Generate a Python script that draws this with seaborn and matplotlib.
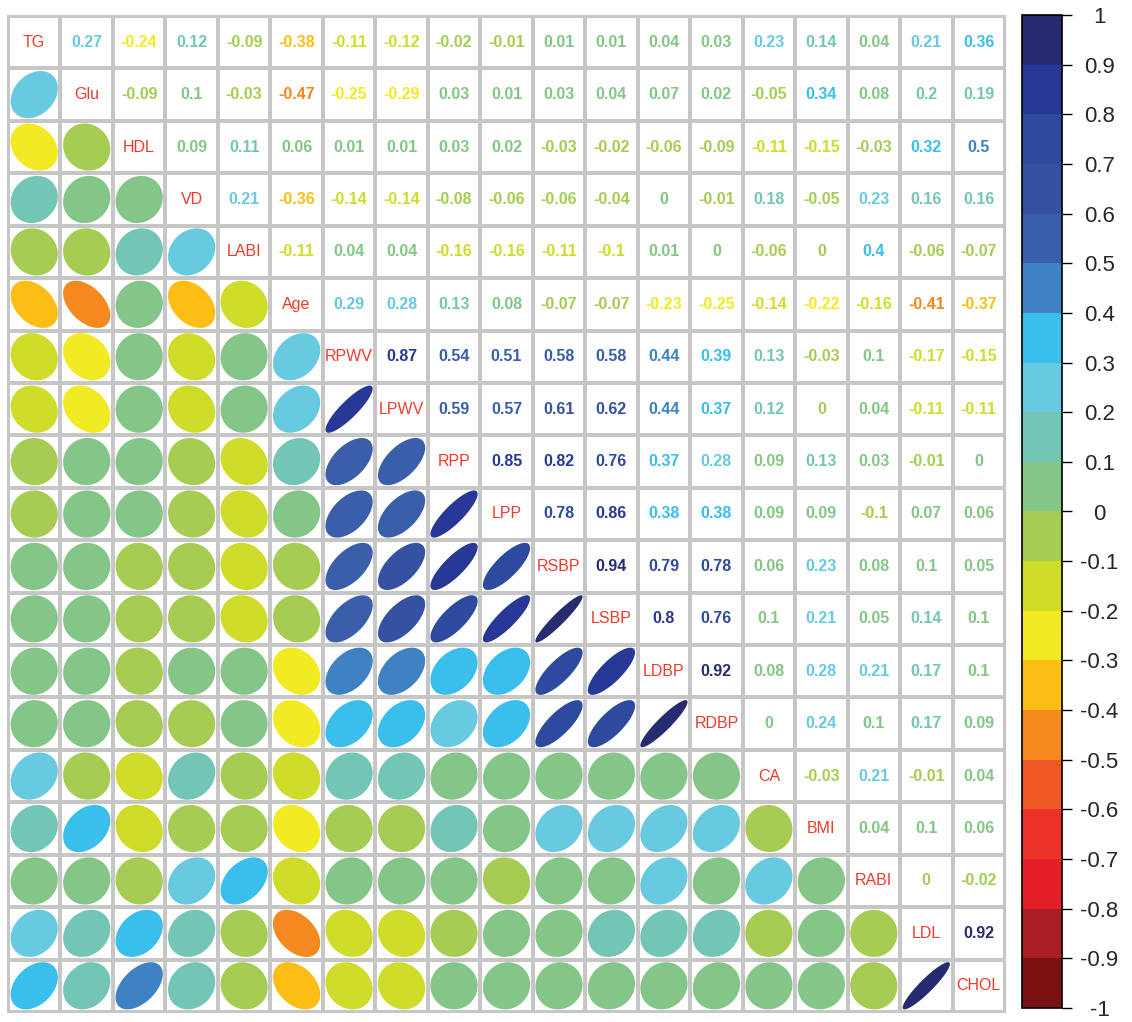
import numpy as np
import pandas as pd
import matplotlib
matplotlib.use("Agg")
import matplotlib.pyplot as plt
import seaborn as sns
from matplotlib.colors import ListedColormap, BoundaryNorm
from matplotlib.patches import Polygon
from matplotlib.cm import ScalarMappable

labels = ['TG', 'Glu', 'HDL', 'VD', 'LABI', 'Age', 'RPWV', 'LPWV', 'RPP', 'LPP',
          'RSBP', 'LSBP', 'LDBP', 'RDBP', 'CA', 'BMI', 'RABI', 'LDL', 'CHOL']

# upper triangle, row by row (columns right of the diagonal)
row_TG = [0.27, -0.24, 0.12, -0.09, -0.38, -0.11, -0.12, -0.02, -0.01, 0.01, 0.01, 0.04, 0.03, 0.23, 0.14, 0.04, 0.21, 0.36]
row_Glu = [-0.09, 0.096, -0.03, -0.47, -0.25, -0.29, 0.03, 0.01, 0.03, 0.04, 0.07, 0.02, -0.05, 0.34, 0.08, 0.2, 0.19]
row_HDL = [0.09, 0.11, 0.06, 0.01, 0.01, 0.03, 0.02, -0.03, -0.02, -0.06, -0.09, -0.11, -0.15, -0.03, 0.32, 0.497]
row_VD = [0.21, -0.36, -0.14, -0.14, -0.08, -0.06, -0.06, -0.04, 0.0, -0.01, 0.18, -0.05, 0.23, 0.16, 0.16]
row_LABI = [-0.11, 0.04, 0.04, -0.16, -0.16, -0.11, -0.104, 0.01, 0.0, -0.06, -0.002, 0.4, -0.06, -0.07]
row_Age = [0.29, 0.28, 0.13, 0.08, -0.07, -0.07, -0.23, -0.25, -0.14, -0.22, -0.16, -0.41, -0.37]
row_RPWV = [0.87, 0.54, 0.51, 0.58, 0.58, 0.44, 0.39, 0.13, -0.03, 0.1, -0.17, -0.15]
row_LPWV = [0.59, 0.57, 0.61, 0.62, 0.44, 0.37, 0.12, -0.002, 0.04, -0.11, -0.11]
row_RPP = [0.85, 0.82, 0.76, 0.37, 0.28, 0.09, 0.13, 0.03, -0.01, 0.0]
row_LPP = [0.78, 0.86, 0.38, 0.38, 0.09, 0.09, -0.098, 0.07, 0.06]
row_RSBP = [0.94, 0.79, 0.78, 0.06, 0.23, 0.08, 0.096, 0.05]
row_LSBP = [0.8, 0.76, 0.096, 0.21, 0.05, 0.14, 0.096]
row_LDBP = [0.92, 0.08, 0.28, 0.21, 0.17, 0.096]
row_RDBP = [0.0, 0.24, 0.1, 0.17, 0.09]
row_CA = [-0.03, 0.21, -0.01, 0.04]
row_BMI = [0.04, 0.1, 0.06]
row_RABI = [-0.002, -0.02]
row_LDL = [0.92]
upper_rows = [row_TG, row_Glu, row_HDL, row_VD, row_LABI, row_Age, row_RPWV, row_LPWV,
              row_RPP, row_LPP, row_RSBP, row_LSBP, row_LDBP, row_RDBP, row_CA,
              row_BMI, row_RABI, row_LDL]

# 20 colour bins from -1 to 1
bin_colors = ['#7a1214', '#aa1f24', '#e41e26', '#ec3227', '#ef5824', '#f48920',
              '#fcbe14', '#f2ea22', '#cfdc2a', '#a6cc54', '#84c687', '#73c6b6',
              '#68cae0', '#3abeec', '#3e82c4', '#3a5eaa', '#3552a2', '#2e4a9e',
              '#283896', '#262c6f']
bounds = np.linspace(-1, 1, 21)
cbar_ticks = np.round(np.linspace(-1, 1, 21), 1)

n = len(labels)
corr = np.eye(n)
for i, row in enumerate(upper_rows):
    for k, v in enumerate(row):
        corr[i, i + 1 + k] = v
        corr[i + 1 + k, i] = v
df = pd.DataFrame(corr, index=labels, columns=labels)

cmap = ListedColormap(bin_colors)
norm = BoundaryNorm(bounds, cmap.N)


def fmt(v):
    s = f"{round(v, 2):g}"
    return "0" if s == "-0" else s


sns.set_theme(style="white")
plt.rcParams['font.family'] = ['Liberation Sans', 'DejaVu Sans']

W, H = 1132, 1022
fig = plt.figure(figsize=(W / 100, H / 100), dpi=100)
ax = fig.add_axes([8 / W, 10 / H, 997 / W, 996 / H])
cax = fig.add_axes([1022 / W, 14 / H, 40 / W, 993 / H])

# white grid with grey lines
sns.heatmap(np.zeros((n, n)), cmap=ListedColormap(['white']), vmin=-1, vmax=1,
            cbar=False, linewidths=1.5, linecolor='#c6c6c6', ax=ax,
            xticklabels=False, yticklabels=False)
for s in ax.spines.values():
    s.set_visible(True)
    s.set_color('#c6c6c6')
    s.set_linewidth(1.5)

t = np.linspace(0, 2 * np.pi, 120)
for i in range(n):
    for j in range(n):
        r = df.iloc[i, j]
        cx, cy = j + 0.5, i + 0.5
        if i == j:
            ax.text(cx, cy, labels[i], ha='center', va='center', fontsize=11.5,
                    color='#ee3a2c')
        elif j > i:
            ax.text(cx, cy, fmt(r), ha='center', va='center', fontsize=11.5,
                    fontweight='bold', color=cmap(norm(r)))
        else:
            d = np.arccos(r)
            ex = cx + 0.45 * np.cos(t + d / 2)
            ey = cy - 0.45 * np.cos(t - d / 2)
            ax.add_patch(Polygon(np.column_stack([ex, ey]), closed=True,
                                 facecolor=cmap(norm(r)), edgecolor='none'))

cb = fig.colorbar(ScalarMappable(norm=norm, cmap=cmap), cax=cax, ticks=cbar_ticks)
cb.outline.set_edgecolor('black')
cb.outline.set_linewidth(1.2)
cax.tick_params(axis='y', direction='out', length=7, width=1, color='black',
                pad=20, labelsize=16)
cax.set_yticklabels([fmt(v) for v in cbar_ticks], ha='center')

fig.savefig('out.png', dpi=100)
